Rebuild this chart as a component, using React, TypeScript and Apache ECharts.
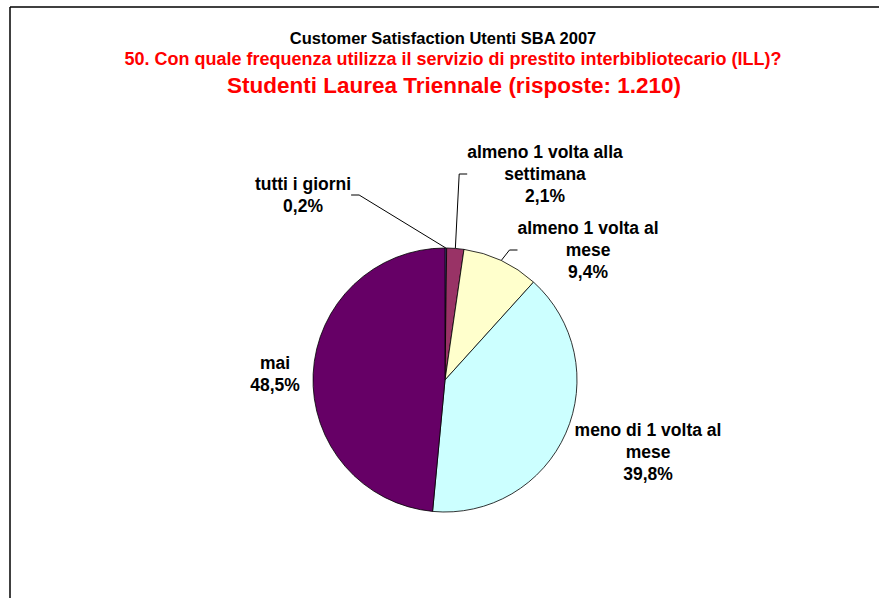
import React, { useEffect, useRef } from "react";
import * as echarts from "echarts";

const titleLine1 = "Customer Satisfaction Utenti SBA 2007";
const titleLine2 = "50. Con quale frequenza utilizza il servizio di prestito interbibliotecario (ILL)?";
const titleLine3 = "Studenti Laurea Triennale (risposte: 1.210)";

const categories = [
  "tutti i giorni",
  "almeno 1 volta alla settimana",
  "almeno 1 volta al mese",
  "meno di 1 volta al mese",
  "mai",
];
const labelTexts = [
  "tutti i giorni",
  "almeno 1 volta alla\nsettimana",
  "almeno 1 volta al\nmese",
  "meno di 1 volta al\nmese",
  "mai",
];
const values = [0.2, 2.1, 9.4, 39.8, 48.5];
const colors = ["#6666cc", "#993366", "#ffffcc", "#ccffff", "#660066"];

// label centre positions (layout, not data)
const labelCenters: [number, number][] = [
  [303, 195],
  [545, 174],
  [588, 250],
  [648, 452],
  [275, 374],
];
const showLeader = [true, true, true, false, false];

export default function App() {
  const ref = useRef<HTMLDivElement>(null);
  useEffect(() => {
    document.body.style.margin = "0";
    const chart = echarts.init(ref.current!, null, { renderer: "svg" });
    const font = "'Liberation Sans', Arial, Helvetica, sans-serif";
    chart.setOption({
      animation: false,
      backgroundColor: "#ffffff",
      graphic: [
        { type: "line", shape: { x1: 10, y1: 7, x2: 879, y2: 7 }, style: { stroke: "#000", lineWidth: 1.5 } },
        { type: "line", shape: { x1: 10, y1: 7, x2: 10, y2: 598 }, style: { stroke: "#000", lineWidth: 1.5 } },
        {
          type: "text", x: 443, y: 38,
          style: { text: titleLine1, fontFamily: font, fontWeight: "bold", fontSize: 16.5, fill: "#000", align: "center", verticalAlign: "middle" },
        },
        {
          type: "text", x: 453, y: 59,
          style: { text: titleLine2, fontFamily: font, fontWeight: "bold", fontSize: 18, fill: "#ff0000", align: "center", verticalAlign: "middle" },
        },
        {
          type: "text", x: 454, y: 85,
          style: { text: titleLine3, fontFamily: font, fontWeight: "bold", fontSize: 22.5, fill: "#ff0000", align: "center", verticalAlign: "middle" },
        },
      ],
      series: [
        {
          type: "pie",
          center: [445, 380],
          radius: 132,
          startAngle: 90,
          clockwise: true,
          avoidLabelOverlap: false,
          itemStyle: { borderColor: "#000", borderWidth: 0.8 },
          label: {
            show: true,
            fontFamily: font,
            fontWeight: "bold",
            fontSize: 17.5,
            lineHeight: 22,
            color: "#000",
            align: "center",
            formatter: (p: any) =>
              labelTexts[p.dataIndex] + "\n" + values[p.dataIndex].toFixed(1).replace(".", ",") + "%",
          },
          labelLine: { show: true, length: 10, length2: 8, lineStyle: { color: "#000", width: 1 } },
          labelLayout: (params: any) => {
            const c = labelCenters[params.dataIndex];
            return { x: c[0], y: c[1], align: "center", verticalAlign: "middle" };
          },
          data: categories.map((name, i) => ({
            name,
            value: values[i],
            itemStyle: { color: colors[i] },
            labelLine: { show: showLeader[i] },
          })),
        },
      ],
    });
    return () => chart.dispose();
  }, []);
  return <div ref={ref} style={{ width: 879, height: 598 }} />;
}
